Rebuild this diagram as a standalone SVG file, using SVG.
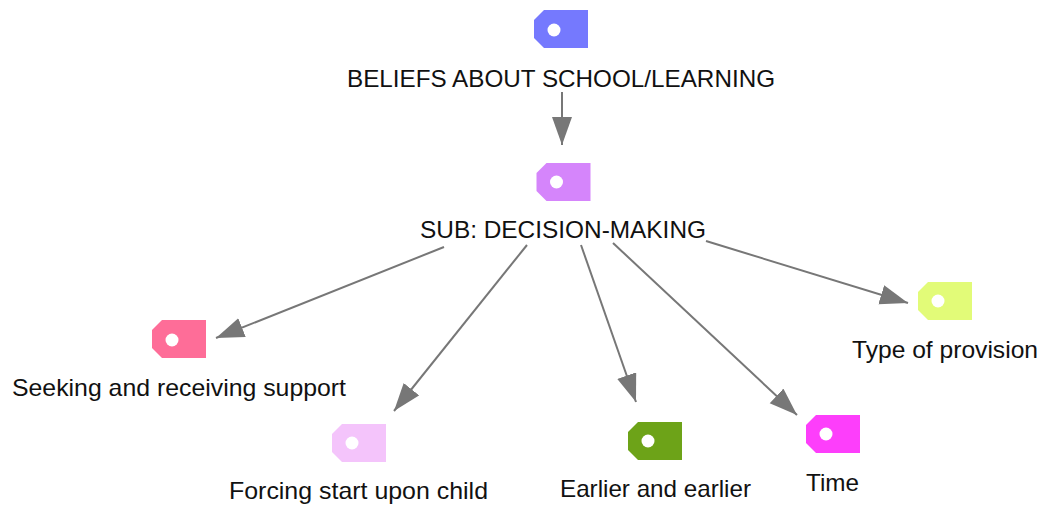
<svg xmlns="http://www.w3.org/2000/svg" width="1043" height="506" viewBox="0 0 1043 506">
<style>
text{font-family:"Liberation Sans",Arial,sans-serif;font-size:24px;fill:#111}
.c{stroke:#777;stroke-width:2;fill:none;marker-end:url(#a)}
.h{fill:#fff}
</style>
<defs>
<marker id="a" markerUnits="userSpaceOnUse" markerWidth="30" markerHeight="22" refX="28" refY="10" orient="auto"><path d="M0 0L28 10L0 20Z" fill="#777"/></marker>
<path id="t" d="M10 0H54V38H10L0 28V10Z"/>
</defs>
<rect width="1043" height="506" fill="#fff"/>
<g id="connectors">
<path class="c" d="M562 92V145"/>
<path class="c" d="M444 247L216 338"/>
<path class="c" d="M527 245L394 411"/>
<path class="c" d="M581 245L636 402"/>
<path class="c" d="M613 243L797 415"/>
<path class="c" d="M706 241L908 303"/>
</g>
<g id="n1"><use href="#t" x="534" y="10" fill="#7579fe"/><circle class="h" cx="554" cy="30" r="6.500"/><text x="347" y="86.500" textLength="428" lengthAdjust="spacingAndGlyphs">BELIEFS ABOUT SCHOOL/LEARNING</text></g>
<g id="n2"><use href="#t" x="536.500" y="163" fill="#d585fb"/><circle class="h" cx="556.500" cy="182" r="6.500"/><text x="420" y="238" textLength="286" lengthAdjust="spacingAndGlyphs">SUB: DECISION-MAKING</text></g>
<g id="n3"><use href="#t" x="152" y="320" fill="#fe6d98"/><circle class="h" cx="172" cy="340" r="6.500"/><text x="12" y="396" textLength="334" lengthAdjust="spacingAndGlyphs">Seeking and receiving support</text></g>
<g id="n4"><use href="#t" x="332" y="424" fill="#f4c4fb"/><circle class="h" cx="352" cy="443" r="6.500"/><text x="229" y="499" textLength="259" lengthAdjust="spacingAndGlyphs">Forcing start upon child</text></g>
<g id="n5"><use href="#t" x="628" y="422" fill="#6da318"/><circle class="h" cx="648" cy="441" r="6.500"/><text x="560" y="497" textLength="191" lengthAdjust="spacingAndGlyphs">Earlier and earlier</text></g>
<g id="n6"><use href="#t" x="806" y="415" fill="#fd3efb"/><circle class="h" cx="826" cy="434" r="6.500"/><text x="806" y="490.500" textLength="53" lengthAdjust="spacingAndGlyphs">Time</text></g>
<g id="n7"><use href="#t" x="918" y="282" fill="#e2fb78"/><circle class="h" cx="938" cy="301" r="6.500"/><text x="852" y="358" textLength="186" lengthAdjust="spacingAndGlyphs">Type of provision</text></g>
</svg>
